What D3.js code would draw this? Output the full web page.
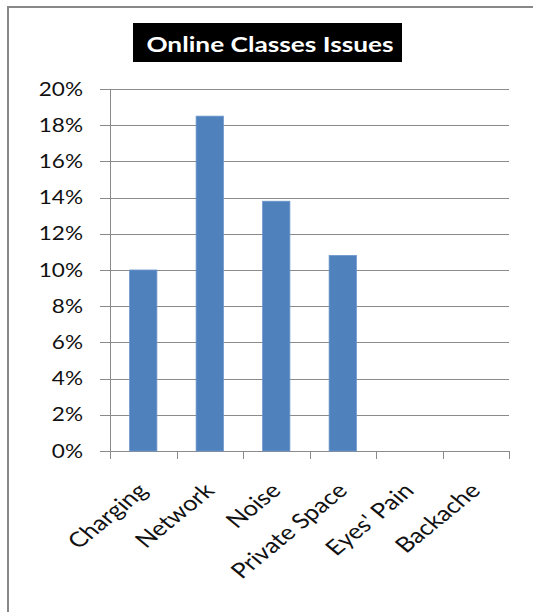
<!DOCTYPE html>
<html>
<head>
<meta charset="utf-8">
<script src="https://cdn.jsdelivr.net/npm/d3@7"></script>
<style>
  html, body { margin: 0; padding: 0; background: #fff; }
  svg { display: block; }
</style>
</head>
<body>
<svg id="chart" width="533" height="612"></svg>
<script>
// Share of students reporting each online-class issue
const categories = ["Charging", "Network", "Noise", "Private Space", "Eyes' Pain", "Backache"];
const shares = [0.10, 0.185, 0.138, 0.108, 0, 0];
const yTicks = [0, 0.02, 0.04, 0.06, 0.08, 0.10, 0.12, 0.14, 0.16, 0.18, 0.20];
const chartTitle = "Online Classes Issues";

const font = "Lato, 'Open Sans', sans-serif";
const stretch = 1.22; // the chart is drawn slightly wide; text follows the same horizontal scale
const svg = d3.select("#chart");

// frame around the chart area
svg.append("path")
  .attr("d", "M8,612 V7 H533")
  .attr("fill", "none")
  .attr("stroke", "#888")
  .attr("stroke-width", 2);

const plot = { left: 110, right: 509, top: 89, bottom: 451 };

const x = d3.scaleBand()
  .domain(categories)
  .range([plot.left, plot.right])
  .paddingInner(0.59)
  .paddingOuter(0.295);

const y = d3.scaleLinear()
  .domain([0, 0.20])
  .range([plot.bottom, plot.top]);

// horizontal gridlines with tick marks on the left
svg.append("g")
  .selectAll("line")
  .data(yTicks)
  .join("line")
  .attr("x1", plot.left - 10)
  .attr("x2", plot.right)
  .attr("y1", d => Math.round(y(d)) + 0.5)
  .attr("y2", d => Math.round(y(d)) + 0.5)
  .attr("stroke", "#8a8a8a")
  .attr("stroke-width", 1);

// y tick labels
svg.append("g")
  .selectAll("text")
  .data(yTicks)
  .join("text")
  .attr("transform", d => `translate(${plot.left - 27},${y(d)}) scale(${stretch},1)`)
  .attr("dy", "0.36em")
  .attr("text-anchor", "end")
  .attr("font-family", font)
  .attr("font-size", 18.5)
  .attr("fill", "#111")
  .text(d => d3.format(".0%")(d));

// bars
svg.append("g")
  .selectAll("rect")
  .data(categories.map((c, i) => ({ c, v: shares[i] })).filter(d => d.v > 0))
  .join("rect")
  .attr("x", d => x(d.c))
  .attr("y", d => y(d.v))
  .attr("width", x.bandwidth())
  .attr("height", d => y(0) - y(d.v))
  .attr("fill", "#4f81bd")
  .attr("stroke", "#6b96cc")
  .attr("stroke-width", 0.8);

// axis lines
svg.append("line")
  .attr("x1", plot.left + 0.5).attr("x2", plot.left + 0.5)
  .attr("y1", plot.top).attr("y2", plot.bottom)
  .attr("stroke", "#8a8a8a");

const boundaries = d3.range(categories.length + 1).map(i => plot.left + i * (plot.right - plot.left) / categories.length);
svg.append("g")
  .selectAll("line")
  .data(boundaries)
  .join("line")
  .attr("x1", d => Math.round(d) + 0.5)
  .attr("x2", d => Math.round(d) + 0.5)
  .attr("y1", plot.bottom)
  .attr("y2", plot.bottom + 8)
  .attr("stroke", "#8a8a8a");

// rotated category labels
svg.append("g")
  .selectAll("text")
  .data(categories)
  .join("text")
  .attr("transform", d => `translate(${x(d) + x.bandwidth() / 2 + 6},${plot.bottom + 41}) scale(${stretch},1) rotate(-45)`)
  .attr("text-anchor", "end")
  .attr("font-family", font)
  .attr("font-size", 21)
  .attr("fill", "#111")
  .text(d => d);

// title on a black box
const titleG = svg.append("g");
titleG.append("rect")
  .attr("x", 133).attr("y", 23)
  .attr("width", 269).attr("height", 39)
  .attr("fill", "#000");
titleG.append("text")
  .attr("transform", `translate(270,44) scale(1.25,1)`)
  .attr("dy", "0.36em")
  .attr("text-anchor", "middle")
  .attr("font-family", font)
  .attr("font-weight", "bold")
  .attr("font-size", 21)
  .attr("fill", "#fff")
  .text(chartTitle);
</script>
</body>
</html>
